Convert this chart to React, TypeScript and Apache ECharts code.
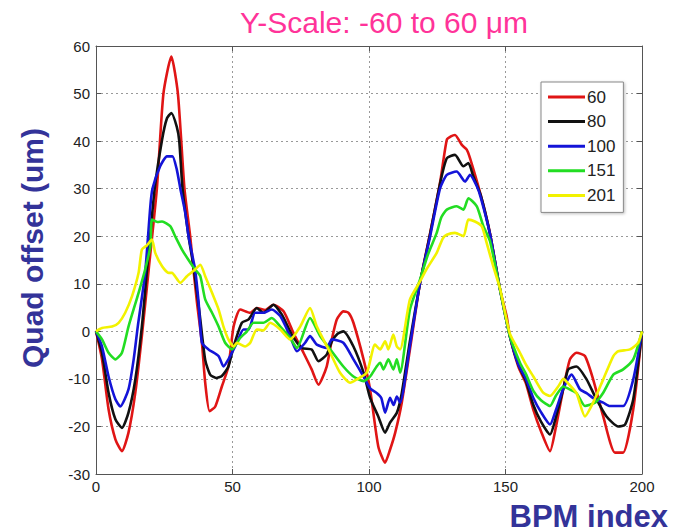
import React, { useEffect, useRef } from "react";
import * as echarts from "echarts";

const seriesNames = ["60", "80", "100", "151", "201"];
const seriesColors = ["#E01515", "#111111", "#1414D8", "#22DD22", "#F2F200"];

const xTicks = [0, 50, 100, 150, 200];
const yTicks = [-30, -20, -10, 0, 10, 20, 30, 40, 50, 60];

const x60 = [0, 2.2, 4.6, 7.1, 9.5, 11.9, 14.4, 16.8, 19.3, 22.3, 24.7, 27.6, 30, 32.4, 34.5, 35.7, 37, 38.8, 40, 41.6, 43.7, 46.1, 48.5, 50.4, 52.8, 56.5, 58.9, 62, 65, 68.7, 72.3, 76, 79, 81.5, 84.5, 86.4, 88.2, 90.6, 92.5, 94.3, 98, 100.4, 103.4, 105.9, 107.7, 109.6, 112, 115, 118.7, 122.4, 126, 128.5, 130, 131.5, 134, 135.8, 137, 140.7, 144.3, 148, 150.4, 151.6, 154.7, 157.5, 160.2, 163, 166.3, 168.5, 171.2, 173.6, 176, 179.1, 182.1, 185.8, 190.1, 193.1, 196.8, 200];
const y60 = [0, -5.9, -16.4, -22.7, -25.2, -21.3, -12.9, -1, 13, 30, 50, 57.8, 50, 30, 20, 13, 6, -2.4, -10.8, -16.8, -15.8, -11.6, -7.4, 1, 4.6, 3.9, 4.9, 4.5, 5.6, 4.2, -0.3, -4.5, -8, -11.2, -7.4, -1.7, 2.5, 4.2, 3.9, 1.8, -5.9, -12.2, -24.2, -27.6, -24.9, -21.3, -15, -3.8, 10.2, 20.7, 31.2, 40.3, 41, 41.3, 39.2, 38.2, 36.4, 29.1, 20.7, 8.8, 3.2, -1, -7.4, -11, -16.5, -21, -25.2, -20, -12, -5.9, -4.5, -5.2, -10.1, -17.9, -25.5, -25.5, -16.4, 0];

const x80 = [0, 2.2, 4.6, 7.1, 9.5, 11.9, 14.4, 16.8, 18.7, 21.5, 24.2, 26, 27.6, 29.6, 30.5, 31.7, 33.9, 35.7, 38, 40, 41.8, 44, 46.1, 48.5, 50.4, 53.4, 55.9, 58.9, 61.3, 65, 68.1, 71.7, 75.4, 79, 81.5, 84.5, 86.4, 88.5, 90.6, 94.3, 98, 100.4, 103.4, 105.9, 107.7, 110.2, 112, 115, 118.7, 122.4, 126, 128.5, 131.5, 134.6, 136.4, 138.2, 141, 144.3, 148, 151.6, 154.7, 157.5, 160.2, 163, 166.3, 168.5, 171.2, 173, 176, 179.7, 182.8, 187, 191.3, 193.8, 196.8, 200];
const y80 = [0, -4.5, -12.9, -18.5, -20.3, -17.1, -10.1, 1, 13, 30, 40.3, 44.8, 45.9, 43, 40, 30, 20, 13.7, 3.5, -6, -9.1, -9.8, -9.4, -7.4, -3.2, 1.8, 2.5, 4.9, 3.9, 5.6, 3.5, -0.7, -3.5, -3.8, -6.3, -4.9, -2.1, -0.5, 0, -3.2, -8.7, -14, -17.9, -21.3, -19.2, -17.1, -13, -2, 10.2, 20.5, 31, 36.4, 37.1, 34.7, 35.4, 32.6, 28.5, 20.5, 8.8, -1, -7, -10.5, -15.5, -19, -21.7, -18, -12, -8, -7.4, -10.1, -13.7, -17.9, -20, -19.6, -14.3, 0];

const x100 = [0, 2.2, 4.6, 7.1, 8.9, 11.9, 13.8, 15.3, 18, 19.9, 20.7, 23.5, 26, 28, 29.6, 30.9, 32.7, 33.9, 35.1, 36.3, 37.6, 38.8, 41.2, 44.9, 46.7, 48.5, 50.4, 51.6, 54, 55.9, 58.3, 61.3, 64.4, 67.5, 71.1, 73.6, 76.6, 78.4, 80.9, 84.5, 86.4, 90.6, 94.3, 98, 100.4, 102.9, 104.5, 105.9, 107.7, 109, 110.2, 111.4, 115, 118.7, 122.4, 126, 128.5, 132.1, 135.2, 137, 139.5, 141, 144.3, 148, 151.6, 154.7, 157.5, 160.2, 163, 166.3, 168.5, 171.2, 174.2, 177.3, 179.7, 182.8, 185.8, 188.2, 193.1, 196.8, 200];
const y100 = [0, -3.2, -9.5, -14.3, -15.8, -12.2, -5.9, 1, 12.3, 26.3, 30, 34.7, 36.8, 36.8, 34, 30, 24.9, 20, 16.5, 13, 6, -2.4, -3.8, -5.2, -7.4, -5.9, -3.8, -2.4, 0.4, 0.4, 3.9, 3.9, 4.6, 3.2, -1, -4.2, -2.4, -1, -2.8, -3.5, -1.7, -2.4, -5.9, -9.5, -12, -13, -14, -17.1, -14, -15.5, -13.7, -15, -3, 10.2, 20, 30, 32.9, 33.6, 31.5, 32.9, 30.5, 28, 20.5, 8.8, -1, -7, -10, -14, -17, -19.6, -16.5, -12, -9.1, -12.2, -13, -14.3, -15, -15.7, -15.7, -10.1, 0];

const x151 = [0, 2.2, 4.6, 7.1, 9.5, 11.9, 15.6, 18, 19.9, 20.5, 22.5, 24.2, 27.2, 29, 31.5, 33.9, 36.3, 38.2, 40, 42.5, 44.9, 47.3, 49.8, 52.8, 55.3, 57.7, 61.3, 64.4, 67.5, 71.1, 73.6, 78.4, 82.1, 85.8, 90.6, 94.3, 98, 100.4, 102.8, 104.1, 105.3, 107.1, 108.9, 110.2, 111.4, 115, 118.7, 121.5, 124.8, 126.5, 128.5, 132.1, 134.6, 136.4, 139.5, 141.9, 144.3, 148, 151.6, 155.3, 157.5, 160.2, 163, 166.3, 168.5, 171.2, 172.4, 176, 179.1, 182.8, 185.8, 189.5, 193.1, 196.8, 200];
const y151 = [0, -1.7, -4.5, -5.9, -4.5, 1, 8.1, 13, 17.9, 23.5, 23, 23.1, 22.1, 20, 17.2, 15, 13, 11.6, 6.7, 3.9, 1, -2.4, -3.8, -1.4, 0, 1.8, 1.8, 2.8, 1, -1.4, -3.5, 2.8, -1, -3.8, -7.4, -9.5, -10.5, -9.5, -7.4, -6.6, -8, -5.9, -8, -5.9, -8.7, 4.6, 10.9, 16, 20.7, 24, 25.6, 26.3, 25.6, 28, 26.3, 22.1, 19, 8.8, -1, -6.6, -9, -12.5, -14.5, -15.7, -13.5, -11.6, -11.9, -13, -15.7, -15, -12.9, -9.1, -8, -5.9, 0];

const x201 = [0, 2.2, 5.9, 8.3, 10.7, 13.2, 15.6, 16.8, 18.5, 20.5, 21.7, 24.2, 26.6, 27.8, 30.9, 33.3, 36.3, 38.2, 40, 42.5, 44.9, 46.7, 48.5, 50.4, 51.6, 54.6, 56.5, 58.9, 61.3, 63.8, 67.5, 71.1, 74.8, 78.4, 80.9, 85.8, 89.4, 93.1, 95.5, 99.2, 102.2, 104.1, 105.9, 107.1, 108.9, 110.2, 111.4, 115, 118.7, 121, 124.8, 127, 128.5, 131.5, 134.6, 136.4, 138.8, 141.3, 143.1, 145.5, 148, 151.6, 155.3, 157.5, 160.2, 163.8, 166.3, 169.3, 171.2, 173, 176, 179.1, 182.1, 185.8, 189.5, 191.3, 195.6, 198.6, 200];
const y201 = [0, 0.7, 1, 1.8, 3.9, 7.4, 12.3, 17.2, 18, 19.3, 16.5, 13.7, 12.3, 12.3, 10.2, 11.6, 13, 14, 11.6, 8.1, 4.6, 1, -1.7, -3.2, -2.4, -3.2, -2.4, 0.4, 0.2, 1.8, 0.4, -1.7, 1, 4.9, 1, -4.5, -8.7, -10.8, -10.1, -8.7, -2.8, -3.8, -2.1, -3.8, -0.7, -3.2, -3.8, 6.7, 10.5, 13, 16.5, 19.5, 20.3, 20.7, 20, 23.5, 23.1, 22.1, 18.6, 13.7, 9, -0.5, -4.5, -7, -9.5, -12.9, -13.6, -11.6, -10, -11, -13, -17.9, -15, -10.1, -5.2, -4.2, -3.8, -2.4, 0];

const xs = [x60, x80, x100, x151, x201];
const ys = [y60, y80, y100, y151, y201];

export default function App() {
  const ref = useRef<HTMLDivElement>(null);
  useEffect(() => {
    if (!ref.current) return;
    const chart = echarts.init(ref.current, undefined, { renderer: "svg" });
    const axisCommon = {
      axisLine: { show: true, onZero: false, lineStyle: { color: "#555", width: 1 } },
      axisTick: { show: true, inside: true, length: 5, lineStyle: { color: "#555" } },
    };
    const labelStyle = { color: "#222", fontSize: 15, fontFamily: "Liberation Sans, Arial, sans-serif" };
    const grid = { left: 96, right: 37, top: 46, bottom: 58 };
    chart.setOption({
      animation: false,
      backgroundColor: "#fff",
      grid,
      xAxis: [
        {
          type: "value",
          min: xTicks[0],
          max: xTicks[xTicks.length - 1],
          interval: 50,
          position: "bottom",
          ...axisCommon,
          axisLabel: { ...labelStyle, margin: 5, formatter: (v: number) => (xTicks.includes(v) ? String(v) : "") },
          splitLine: { show: true, lineStyle: { color: "#999", type: [2, 3], width: 1 } },
        },
        {
          type: "value",
          min: xTicks[0],
          max: xTicks[xTicks.length - 1],
          interval: 50,
          position: "top",
          ...axisCommon,
          axisLabel: { show: false },
          splitLine: { show: false },
        },
      ],
      yAxis: [
        {
          type: "value",
          min: yTicks[0],
          max: yTicks[yTicks.length - 1],
          interval: 10,
          position: "left",
          ...axisCommon,
          axisLabel: { ...labelStyle, margin: 6, formatter: (v: number) => (yTicks.includes(v) ? String(v) : "") },
          splitLine: { show: true, lineStyle: { color: "#999", type: [2, 3], width: 1 } },
        },
        {
          type: "value",
          min: yTicks[0],
          max: yTicks[yTicks.length - 1],
          interval: 10,
          position: "right",
          ...axisCommon,
          axisLabel: { show: false },
          splitLine: { show: false },
        },
      ],
      legend: {
        show: true,
        orient: "vertical",
        left: 541,
        top: 82,
        padding: [5, 8, 7, 7],
        backgroundColor: "#fff",
        borderColor: "#888",
        borderWidth: 1,
        shadowColor: "rgba(0,0,0,0.25)",
        shadowBlur: 3,
        shadowOffsetX: 1,
        shadowOffsetY: 1,
        itemWidth: 37,
        itemHeight: 3,
        itemGap: 4.6,
        icon: "rect",
        textStyle: { fontSize: 17, lineHeight: 20, color: "#222", fontFamily: "Liberation Sans, Arial, sans-serif", padding: [0, 0, 0, -3] },
        data: seriesNames,
      },
      series: seriesNames.map((name, i) => ({
        name,
        type: "line",
        xAxisIndex: 0,
        yAxisIndex: 0,
        showSymbol: false,
        symbol: "none",
        smooth: 0.2,
        color: seriesColors[i],
        lineStyle: { width: 2.6, color: seriesColors[i] },
        itemStyle: { color: seriesColors[i] },
        data: xs[i].map((x, j) => [x, ys[i][j]]),
      })),
      graphic: [
        {
          type: "text",
          x: 384,
          y: 22,
          style: {
            text: "Y-Scale: -60 to 60 \u03bcm",
            fill: "#FF3399",
            font: "30px 'Liberation Sans', Arial, sans-serif",
            align: "center",
            verticalAlign: "middle",
          },
        },
        {
          type: "text",
          x: 32,
          y: 248,
          rotation: Math.PI / 2,
          style: {
            text: "Quad offset (um)",
            fill: "#333399",
            font: "bold 30px 'Liberation Sans', Arial, sans-serif",
            align: "center",
            verticalAlign: "middle",
          },
        },
        {
          type: "text",
          x: 668,
          y: 516,
          style: {
            text: "BPM index",
            fill: "#333399",
            font: "bold 31px 'Liberation Sans', Arial, sans-serif",
            align: "right",
            verticalAlign: "middle",
          },
        },
      ],
    });
    return () => chart.dispose();
  }, []);
  return (
    <div
      ref={ref}
      style={{ position: "absolute", left: 0, top: 0, width: 679, height: 532, background: "#fff" }}
    />
  );
}
